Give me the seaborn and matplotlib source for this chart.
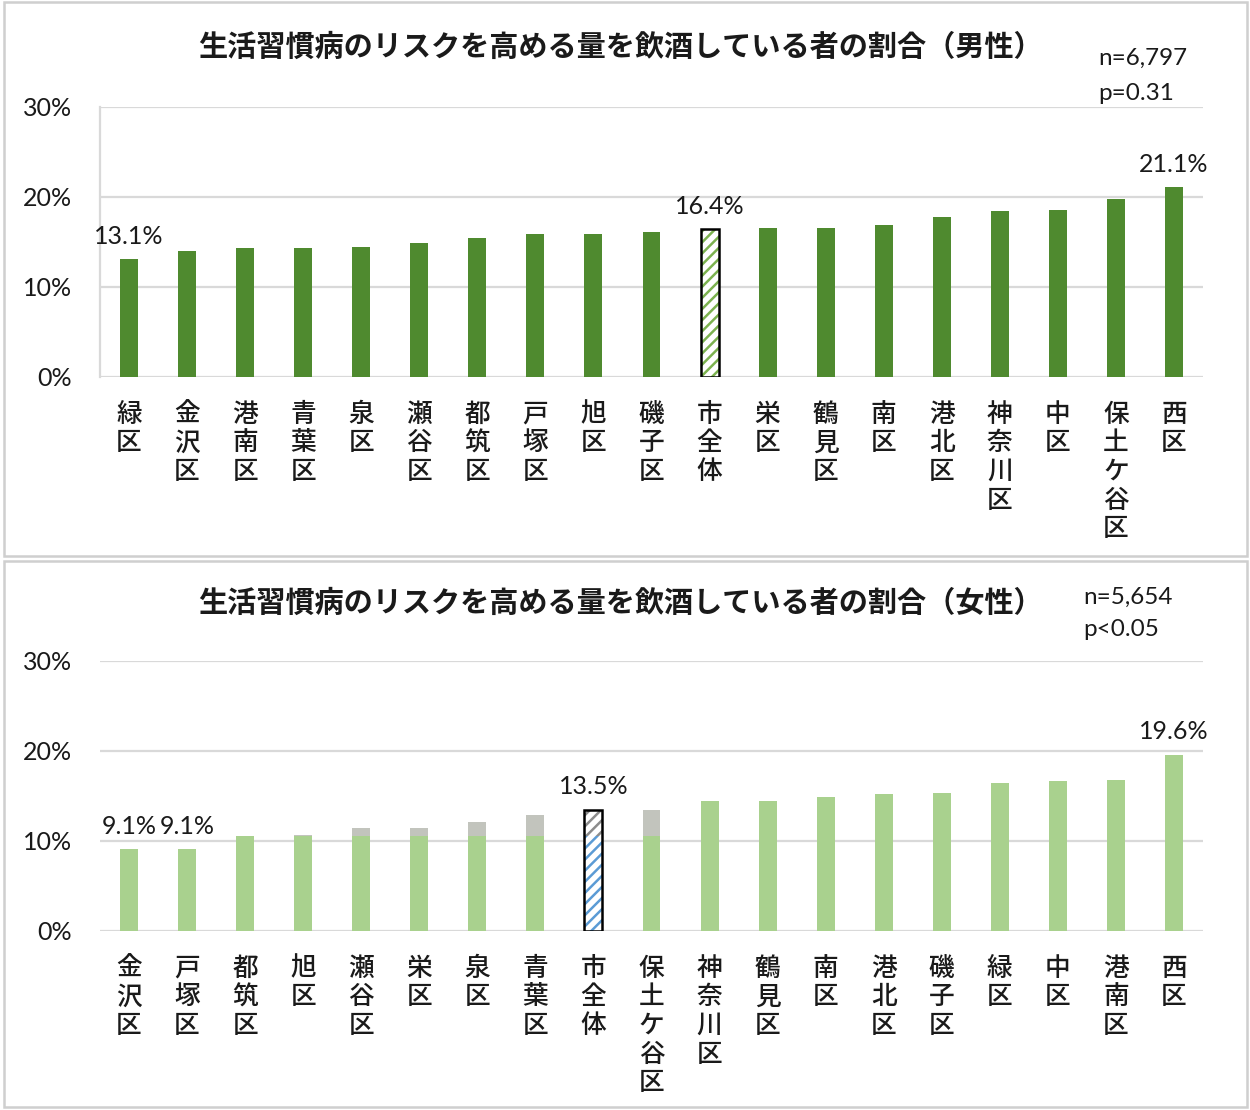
import numpy as np
import pandas as pd
import matplotlib
matplotlib.use("Agg")
import matplotlib.pyplot as plt
from matplotlib.patches import Rectangle
import seaborn as sns

# ---- data -------------------------------------------------------------
male_wards = ["緑区", "金沢区", "港南区", "青葉区", "泉区", "瀬谷区", "都筑区", "戸塚区",
              "旭区", "磯子区", "市全体", "栄区", "鶴見区", "南区", "港北区", "神奈川区",
              "中区", "保土ケ谷区", "西区"]
male_rates = [13.1, 14.0, 14.3, 14.3, 14.5, 14.9, 15.4, 15.9, 15.9, 16.1, 16.4,
              16.6, 16.6, 16.9, 17.8, 18.5, 18.6, 19.8, 21.1]
male_labeled = ["緑区", "市全体", "西区"]
male_title = "生活習慣病のリスクを高める量を飲酒している者の割合（男性）"
male_stats = ["n=6,797", "p=0.31"]

female_wards = ["金沢区", "戸塚区", "都筑区", "旭区", "瀬谷区", "栄区", "泉区", "青葉区",
                "市全体", "保土ケ谷区", "神奈川区", "鶴見区", "南区", "港北区", "磯子区",
                "緑区", "中区", "港南区", "西区"]
female_rates = [9.1, 9.1, 10.6, 10.7, 11.4, 11.5, 12.1, 12.9, 13.5, 13.5, 14.4,
                14.4, 14.9, 15.2, 15.3, 16.4, 16.7, 16.8, 19.6]
female_labeled = ["金沢区", "戸塚区", "市全体", "西区"]
female_faded = ["旭区", "瀬谷区", "栄区", "泉区", "青葉区", "市全体", "保土ケ谷区"]
female_title = "生活習慣病のリスクを高める量を飲酒している者の割合（女性）"
female_stats = ["n=5,654", "p<0.05"]

yticks = [0, 10, 20, 30]
city = "市全体"

# ---- style ------------------------------------------------------------
sns.set_theme(style="white")
plt.rcParams["font.family"] = ["Lato", "Noto Sans CJK JP", "DejaVu Sans"]
plt.rcParams["hatch.linewidth"] = 1.8
CJK = ["Noto Sans CJK JP", "DejaVu Sans"]
NUM = ["Lato", "Noto Sans CJK JP", "DejaVu Sans"]

DARK_GREEN = "#4f8a2f"
LIGHT_GREEN = "#a9d18e"
FADED = "#c2c4bd"
GRID = "#d9d9d9"
TEXT = "#1a1a1a"
FADE_LEVEL = 10.55
BAR_W = 0.31

W, H = 1250, 1110
fig = plt.figure(figsize=(W / 100, H / 100), dpi=100)
fig.patch.set_facecolor("white")


def fx(px):
    return px / W


def fy(py):
    return 1 - py / H


def style_axes(ax, wards, show_yaxis):
    ax.set_ylim(0, 30)
    ax.set_xlim(-0.5, len(wards) - 0.5)
    ax.set_yticks(yticks)
    ax.set_yticklabels([f"{v}%" for v in yticks], fontsize=18, color=TEXT,
                       family=NUM)
    ax.tick_params(axis="y", length=0, pad=20)
    ax.tick_params(axis="x", length=0, pad=17)
    ax.set_xticks(range(len(wards)))
    ax.set_xticklabels(["\n".join(w) for w in wards], family=CJK, fontsize=18.5,
                       fontweight="medium", color=TEXT, linespacing=1.08, va="top")
    for v in yticks:
        ax.axhline(v, color=GRID, lw=1.6, zorder=0)
    for s in ["top", "right", "bottom"]:
        ax.spines[s].set_visible(False)
    ax.spines["left"].set_visible(show_yaxis)
    ax.spines["left"].set_color(GRID)
    ax.spines["left"].set_linewidth(1.6)
    ax.set_xlabel("")
    ax.set_ylabel("")
    ax.set_facecolor("none")


def outline(ax, p):
    ax.add_patch(Rectangle((p.get_x(), 0), p.get_width(), p.get_height(),
                           fill=False, edgecolor="black", lw=1.8, zorder=5))


def add_labels(ax, wards, rates, labeled):
    for i, (w, v) in enumerate(zip(wards, rates)):
        if w in labeled:
            ax.annotate(f"{v:.1f}%", (i, v), xytext=(0, 8),
                        textcoords="offset points", ha="center", va="bottom",
                        fontsize=18, family=NUM, color=TEXT)


# ---- panel frames -----------------------------------------------------
for top, bottom in [(2, 556), (561, 1107)]:
    fig.add_artist(Rectangle((fx(4), fy(bottom)), fx(1243), fy(top) - fy(bottom),
                             transform=fig.transFigure, fill=False,
                             edgecolor="#cfcfcf", lw=1.8))

# ---- male chart -------------------------------------------------------
ax1 = fig.add_axes([fx(100), fy(377), fx(1103), fy(107) - fy(377)])
df_m = pd.DataFrame({"ward": male_wards, "rate": male_rates})
sns.barplot(data=df_m, x="ward", y="rate", order=male_wards, color=DARK_GREEN,
            saturation=1, width=BAR_W, ax=ax1, zorder=2)
bars_m = sorted(ax1.patches, key=lambda p: p.get_x())
for w, p in zip(male_wards, bars_m):
    p.set_edgecolor("none")
    if w == city:
        p.set_facecolor("white")
        p.set_edgecolor("#7cb24f")
        p.set_linewidth(0)
        p.set_hatch("///")
        outline(ax1, p)
style_axes(ax1, male_wards, True)
add_labels(ax1, male_wards, male_rates, male_labeled)

fig.text(fx(620), fy(47), male_title, family=CJK, fontsize=21, fontweight="bold",
         ha="center", va="center", color=TEXT)
fig.text(fx(1098), fy(58), male_stats[0], family=NUM, fontsize=17.5, ha="left",
         va="center", color=TEXT)
fig.text(fx(1098), fy(93), male_stats[1], family=NUM, fontsize=17.5, ha="left",
         va="center", color=TEXT)

# ---- female chart -----------------------------------------------------
ax2 = fig.add_axes([fx(100), fy(931), fx(1103), fy(661) - fy(931)])
df_f = pd.DataFrame({"ward": female_wards, "rate": female_rates})
# full-height layer: faded tops where the fill does not reach
sns.barplot(data=df_f, x="ward", y="rate", order=female_wards, color=FADED,
            saturation=1, width=BAR_W, ax=ax2, zorder=2)
n_first = len(ax2.patches)
# fill layer
df_f["fill"] = [min(v, FADE_LEVEL) if w in female_faded else v
                for w, v in zip(female_wards, female_rates)]
sns.barplot(data=df_f, x="ward", y="fill", order=female_wards, color=LIGHT_GREEN,
            saturation=1, width=BAR_W, ax=ax2, zorder=3)
under = sorted(ax2.patches[:n_first], key=lambda p: p.get_x())
over = sorted(ax2.patches[n_first:], key=lambda p: p.get_x())
for w, p_u, p_o in zip(female_wards, under, over):
    p_o.set_zorder(3)
    if w not in female_faded:
        p_u.set_facecolor(LIGHT_GREEN)
    p_u.set_edgecolor("none")
    p_o.set_edgecolor("none")
    if w == city:
        for p, c in [(p_u, "#8c8c8c"), (p_o, "#5b9bd5")]:
            p.set_facecolor("white")
            p.set_edgecolor(c)
            p.set_linewidth(0)
            p.set_hatch("///")
        outline(ax2, p_u)
style_axes(ax2, female_wards, False)
add_labels(ax2, female_wards, female_rates, female_labeled)

fig.text(fx(620), fy(603), female_title, family=CJK, fontsize=21, fontweight="bold",
         ha="center", va="center", color=TEXT)
fig.text(fx(1083), fy(597), female_stats[0], family=NUM, fontsize=17.5, ha="left",
         va="center", color=TEXT)
fig.text(fx(1083), fy(630), female_stats[1], family=NUM, fontsize=17.5, ha="left",
         va="center", color=TEXT)

fig.savefig("out.png", dpi=100, facecolor="white")
